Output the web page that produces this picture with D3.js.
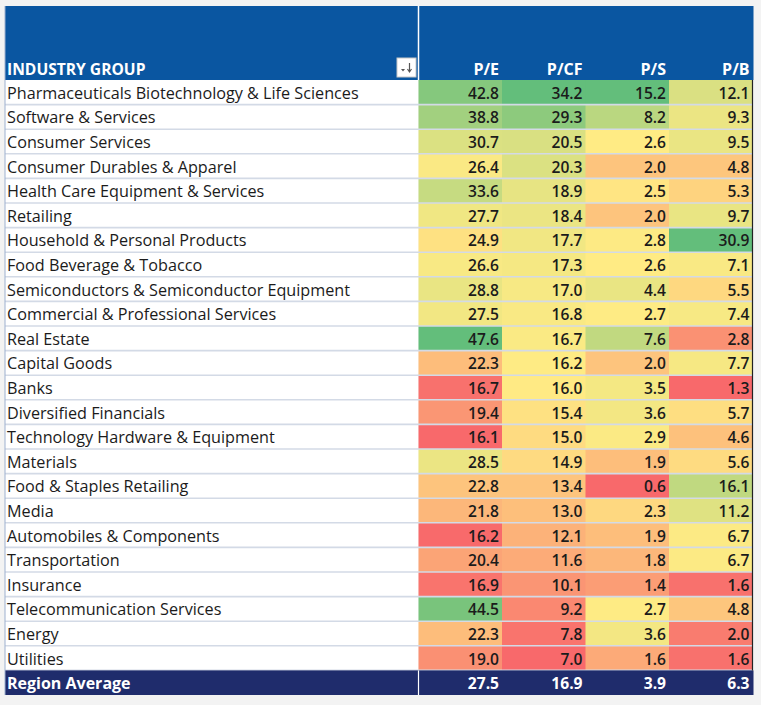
<!DOCTYPE html>
<html><head><meta charset="utf-8">
<script src="https://cdn.jsdelivr.net/npm/d3@7"></script>
<style>
html,body{margin:0;padding:0;background:#f3f3f3;}
svg{display:block;}
text{font-family:"Open Sans","Noto Sans",sans-serif;}
</style></head>
<body><svg id="c" width="761" height="705"></svg>
<script>
const categories = ["Pharmaceuticals Biotechnology & Life Sciences","Software & Services","Consumer Services","Consumer Durables & Apparel","Health Care Equipment & Services","Retailing","Household & Personal Products","Food Beverage & Tobacco","Semiconductors & Semiconductor Equipment","Commercial & Professional Services","Real Estate","Capital Goods","Banks","Diversified Financials","Technology Hardware & Equipment","Materials","Food & Staples Retailing","Media","Automobiles & Components","Transportation","Insurance","Telecommunication Services","Energy","Utilities"];
const columns = ["P/E","P/CF","P/S","P/B"];
const pe  = [42.8,38.8,30.7,26.4,33.6,27.7,24.9,26.6,28.8,27.5,47.6,22.3,16.7,19.4,16.1,28.5,22.8,21.8,16.2,20.4,16.9,44.5,22.3,19.0];
const pcf = [34.2,29.3,20.5,20.3,18.9,18.4,17.7,17.3,17.0,16.8,16.7,16.2,16.0,15.4,15.0,14.9,13.4,13.0,12.1,11.6,10.1,9.2,7.8,7.0];
const ps  = [15.2,8.2,2.6,2.0,2.5,2.0,2.8,2.6,4.4,2.7,7.6,2.0,3.5,3.6,2.9,1.9,0.6,2.3,1.9,1.8,1.4,2.7,3.6,1.6];
const pb  = [12.1,9.3,9.5,4.8,5.3,9.7,30.9,7.1,5.5,7.4,2.8,7.7,1.3,5.7,4.6,5.6,16.1,11.2,6.7,6.7,1.6,4.8,2.0,1.6];
const averageLabel = "Region Average";
const averages = [27.5,16.9,3.9,6.3];
const headerLabel = "INDUSTRY GROUP";

const series = [pe,pcf,ps,pb];
const svg = d3.select("#c");

const left = 5, labelRight = 418.5, right = 752.5, headTop = 6, headBottom = 80, bottom = 695;
const rows = categories.concat([averageLabel]);
const y = d3.scaleBand().domain(rows).range([headBottom, bottom]);
const x = d3.scaleBand().domain(columns).range([labelRight, right]);
const base = 18.8;

// colour scales (Excel 3-colour scale: min red, 50th percentile yellow, max green)
const scales = series.map(s => {
  const sorted = s.slice().sort(d3.ascending);
  return d3.scaleLinear()
    .domain([sorted[0], d3.quantileSorted(sorted, 0.5), sorted[sorted.length-1]])
    .range(["#F8696B","#FFEB84","#63BE7B"])
    .interpolate(d3.interpolateRgb);
});

// header
svg.append("rect").attr("x", left).attr("y", headTop).attr("width", right + 1 - left).attr("height", headBottom - headTop).attr("fill", "#0A56A1");
svg.append("line").attr("x1", labelRight).attr("x2", labelRight).attr("y1", headTop).attr("y2", headBottom).attr("stroke", "#ffffff").attr("stroke-width", 1.5);
svg.append("text").attr("x", 7).attr("y", 74.5).attr("fill", "#fff").attr("font-weight", "bold").attr("font-size", 15.6).text(headerLabel);
// filter button
const fb = svg.append("g").attr("transform", "translate(397,58)");
fb.append("rect").attr("width", 19).attr("height", 19).attr("fill", "#fff").attr("stroke", "#c8c8c8");
fb.append("path").attr("d", "M4 11 L8 11 L6 13.5 Z").attr("fill", "#555");
fb.append("path").attr("d", "M12.5 5 L12.5 13").attr("stroke", "#555").attr("stroke-width", 1.2);
fb.append("path").attr("d", "M10.5 11 L12.5 14 L14.5 11").attr("stroke", "#555").attr("stroke-width", 1.2).attr("fill", "none");

svg.selectAll("text.col").data(columns).join("text")
  .attr("class", "col").attr("x", d => x(d) + x.bandwidth() - 3).attr("y", 74.5)
  .attr("text-anchor", "end").attr("fill", "#fff").attr("font-weight", "bold").attr("font-size", 16).text(d => d);

// label column background
svg.append("rect").attr("x", left).attr("y", headBottom).attr("width", labelRight - left).attr("height", y(averageLabel) - headBottom).attr("fill", "#fff");

// cells
categories.forEach((c, i) => {
  columns.forEach((col, j) => {
    svg.append("rect").attr("x", x(col)).attr("y", y(c)).attr("width", x.bandwidth() + 0.5).attr("height", y.bandwidth())
      .attr("fill", scales[j](series[j][i]));
  });
});

// row separators
svg.selectAll("line.sep").data(categories.slice(1).concat([averageLabel])).join("line")
  .attr("class", "sep").attr("x1", left).attr("x2", right).attr("y1", d => y(d)).attr("y2", d => y(d))
  .attr("stroke", "#D3DAE6").attr("stroke-width", 1.6);

// labels
svg.selectAll("text.lab").data(categories).join("text")
  .attr("class", "lab").attr("x", 7).attr("y", d => y(d) + base)
  .attr("fill", "#1b1b1b").attr("font-size", 16.2).text(d => d);

// values
categories.forEach((c, i) => {
  columns.forEach((col, j) => {
    svg.append("text").attr("x", x(col) + x.bandwidth() - 3).attr("y", y(c) + base)
      .attr("text-anchor", "end").attr("font-size", 15.6).attr("font-weight", 600).attr("fill", "#1b1b1b")
      .text(series[j][i].toFixed(1));
  });
});

// region average row
svg.append("rect").attr("x", left).attr("y", y(averageLabel)).attr("width", right + 1 - left).attr("height", y.bandwidth()).attr("fill", "#1F2C6C");
svg.append("line").attr("x1", labelRight).attr("x2", labelRight).attr("y1", y(averageLabel)).attr("y2", bottom).attr("stroke", "#fff").attr("stroke-width", 1.2);
svg.append("text").attr("x", 7).attr("y", y(averageLabel) + base).attr("fill", "#fff").attr("font-weight", "bold").attr("font-size", 16).text(averageLabel);
svg.selectAll("text.avg").data(averages).join("text")
  .attr("class", "avg").attr("x", (d, j) => x(columns[j]) + x.bandwidth() - 3).attr("y", y(averageLabel) + base)
  .attr("text-anchor", "end").attr("fill", "#fff").attr("font-weight", "bold").attr("font-size", 15.6).text(d => d.toFixed(1));

// borders
svg.append("line").attr("x1", right).attr("x2", right).attr("y1", headBottom).attr("y2", y(averageLabel)).attr("stroke", "#222").attr("stroke-width", 1.2);
svg.append("line").attr("x1", left).attr("x2", left).attr("y1", headTop).attr("y2", bottom).attr("stroke", "#9DB0CF").attr("stroke-width", 1);
</script></body></html>
